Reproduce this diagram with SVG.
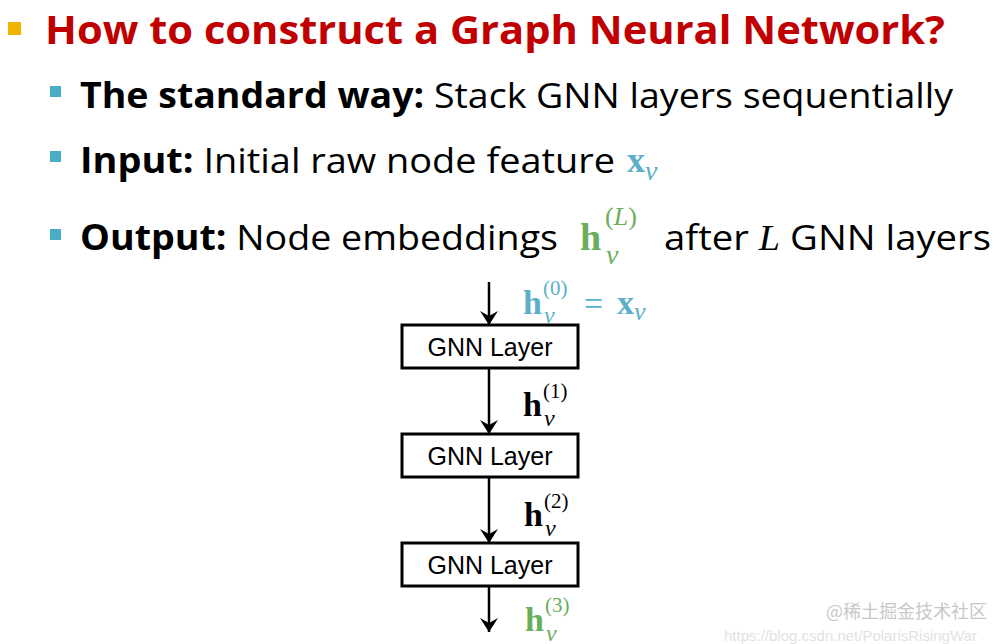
<svg xmlns="http://www.w3.org/2000/svg" width="1003" height="644" viewBox="0 0 1003 644">
<defs>
<style>
.t{font-family:"Open Sans","Liberation Sans",sans-serif;font-size:35px;fill:#000}
.b{font-weight:bold}
.m{font-family:"Liberation Serif",serif}
.box{fill:#fff;stroke:#000;stroke-width:3}
.bl{font-family:"Liberation Sans",Arial,sans-serif;font-size:25px;fill:#000}
.e{stroke:#000;stroke-width:2.5;fill:none}
</style>
<marker id="ar" viewBox="0 0 14 18" refX="14" refY="9" markerWidth="14" markerHeight="18" orient="auto" markerUnits="userSpaceOnUse">
<path d="M0,0 L14,9 L0,18 L5,9 z" fill="#000"/>
</marker>
</defs>
<rect width="1003" height="644" fill="#fff"/>
<g id="text">
<rect x="8" y="22" width="13" height="13" fill="#f0b400"/>
<text x="45" y="44" font-family="Open Sans,Liberation Sans,sans-serif" font-weight="bold" font-size="39" fill="#c00000" textLength="900" lengthAdjust="spacingAndGlyphs">How to construct a Graph Neural Network?</text>
<rect x="50" y="86" width="11" height="11" fill="#4bacc6"/>
<text class="t" x="80" y="108" textLength="873" lengthAdjust="spacingAndGlyphs"><tspan class="b">The standard way:</tspan> Stack GNN layers sequentially</text>
<rect x="50" y="151" width="11" height="11" fill="#4bacc6"/>
<text class="t" x="80" y="173" textLength="535" lengthAdjust="spacingAndGlyphs"><tspan class="b">Input:</tspan> Initial raw node feature</text>
<text class="m" x="627" y="172" font-size="36" font-weight="bold" fill="#5bafc8">x<tspan font-weight="normal" font-style="italic" font-size="28" dy="8">v</tspan></text>
<rect x="50" y="229" width="11" height="11" fill="#4bacc6"/>
<text class="t" x="80" y="250" textLength="478" lengthAdjust="spacingAndGlyphs"><tspan class="b">Output:</tspan> Node embeddings</text>
<text class="m" x="580" y="250" font-size="38" font-weight="bold" fill="#6aad5a">h</text>
<text class="m" x="605" y="225" font-size="26" fill="#6aad5a">(<tspan font-style="italic">L</tspan>)</text>
<text class="m" x="606" y="264" font-size="28" font-style="italic" fill="#6aad5a">v</text>
<text class="t" x="664" y="250" textLength="327" lengthAdjust="spacingAndGlyphs">after <tspan class="m" font-style="italic">L</tspan> GNN layers</text>
</g>
<g id="edges">
<line class="e" x1="489" y1="282" x2="489" y2="325" marker-end="url(#ar)"/>
<line class="e" x1="489" y1="368" x2="489" y2="434" marker-end="url(#ar)"/>
<line class="e" x1="489" y1="477" x2="489" y2="543" marker-end="url(#ar)"/>
<line class="e" x1="489" y1="586" x2="489" y2="632" marker-end="url(#ar)"/>
</g>
<g id="n1"><rect class="box" x="402" y="325" width="176" height="43"/><text class="bl" x="490" y="356" text-anchor="middle">GNN Layer</text></g>
<g id="n2"><rect class="box" x="402" y="434" width="176" height="43"/><text class="bl" x="490" y="465" text-anchor="middle">GNN Layer</text></g>
<g id="n3"><rect class="box" x="402" y="543" width="176" height="43"/><text class="bl" x="490" y="574" text-anchor="middle">GNN Layer</text></g>
<g id="labels" class="m">
<g fill="#5bafc8"><text x="523" y="314" font-size="34" font-weight="bold">h</text><text x="543" y="295" font-size="21">(0)</text><text x="544" y="323" font-size="24" font-style="italic">v</text><text x="584" y="315" font-size="34">=</text><text x="617" y="314" font-size="34" font-weight="bold">x<tspan font-weight="normal" font-style="italic" font-size="26" dy="6">v</tspan></text></g>
<g fill="#000"><text x="523" y="416" font-size="34" font-weight="bold">h</text><text x="543" y="398" font-size="21">(1)</text><text x="544" y="426" font-size="24" font-style="italic">v</text></g>
<g fill="#000"><text x="524" y="526" font-size="34" font-weight="bold">h</text><text x="544" y="508" font-size="21">(2)</text><text x="545" y="536" font-size="24" font-style="italic">v</text></g>
<g fill="#6aad5a"><text x="525" y="631" font-size="34" font-weight="bold">h</text><text x="545" y="612" font-size="21">(3)</text><text x="546" y="641" font-size="24" font-style="italic">v</text></g>
</g>
<text x="826" y="618" font-family="Noto Sans CJK SC,sans-serif" font-size="18" fill="#c8c8c8">@稀土掘金技术社区</text>
<text x="724" y="641" font-family="Liberation Sans,sans-serif" font-size="15" fill="#e2e2e2">https://blog.csdn.net/PolarisRisingWar</text>
</svg>
